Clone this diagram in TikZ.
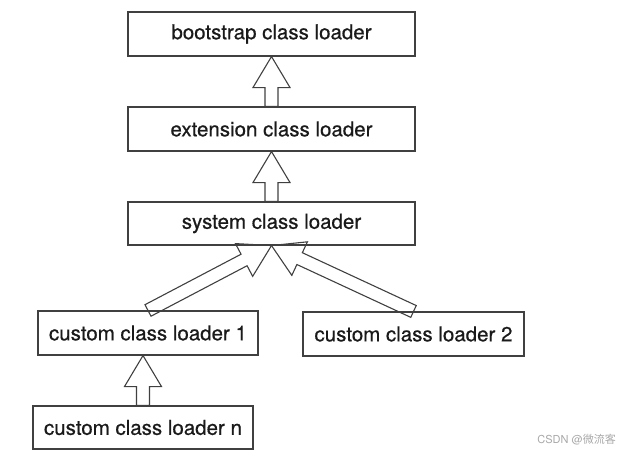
\documentclass[tikz,border=0pt]{standalone}
\usepackage{fontspec}
\setmainfont{TeX Gyre Heros}
\newfontfamily\boxfont{TeX Gyre Heros}[FakeBold=0.6]
\newfontfamily\cjk{Noto Sans CJK SC}
\usetikzlibrary{calc}
\definecolor{linec}{HTML}{404040}
\definecolor{textc}{HTML}{1A1A1A}
\definecolor{wmc}{HTML}{A8A8A8}
\tikzset{
  loaderbox/.style={draw=linec, line width=1.1pt, text=textc, font=\boxfont\fontsize{20.5}{24}\selectfont, inner sep=0pt},
  blockarr/.style={draw=linec, line width=1.1pt, line join=miter},
}
\newcommand{\blockarrow}[3]{% base, tip, id
  \coordinate (#3H) at ($(#2)!31pt!(#1)$);
  \draw[blockarr] ($(#1)!6.5pt!90:(#2)$) -- ($(#3H)!6.5pt!-90:(#1)$) -- ($(#3H)!18.5pt!-90:(#1)$) -- (#2)
     -- ($(#3H)!18.5pt!90:(#1)$) -- ($(#3H)!6.5pt!90:(#1)$) -- ($(#1)!6.5pt!-90:(#2)$) -- cycle;
}
\begin{document}
\begin{tikzpicture}[x=1pt,y=-1pt]
\useasboundingbox (0,0) rectangle (626,460);
\node[loaderbox, minimum width=287pt, minimum height=44pt] (boot) at (271.5,34) {bootstrap class loader};
\node[loaderbox, minimum width=287pt, minimum height=44pt] (ext) at (271.5,129) {extension class loader};
\node[loaderbox, minimum width=287pt, minimum height=43pt] (sys) at (271.5,223.5) {system class loader};
\node[loaderbox, minimum width=220pt, minimum height=44pt] (c1) at (148,333) {custom class loader 1};
\node[loaderbox, minimum width=221pt, minimum height=44pt] (c2) at (413.5,334) {custom class loader 2};
\node[loaderbox, minimum width=220pt, minimum height=43pt] (cn) at (143,427.5) {custom class loader n};
\coordinate (cntip) at (c1.south -| cn.north);
\blockarrow{ext.north}{boot.south}{a}
\blockarrow{sys.north}{ext.south}{b}
\blockarrow{c1.north}{sys.south}{c}
\blockarrow{c2.north}{sys.south}{d}
\blockarrow{cn.north}{cntip}{e}
\node[text=wmc, font=\fontsize{11}{13}\selectfont, anchor=east, inner sep=0pt] (wm) at (616,440) {CSDN @{\cjk 微流客}};
\end{tikzpicture}
\end{document}
